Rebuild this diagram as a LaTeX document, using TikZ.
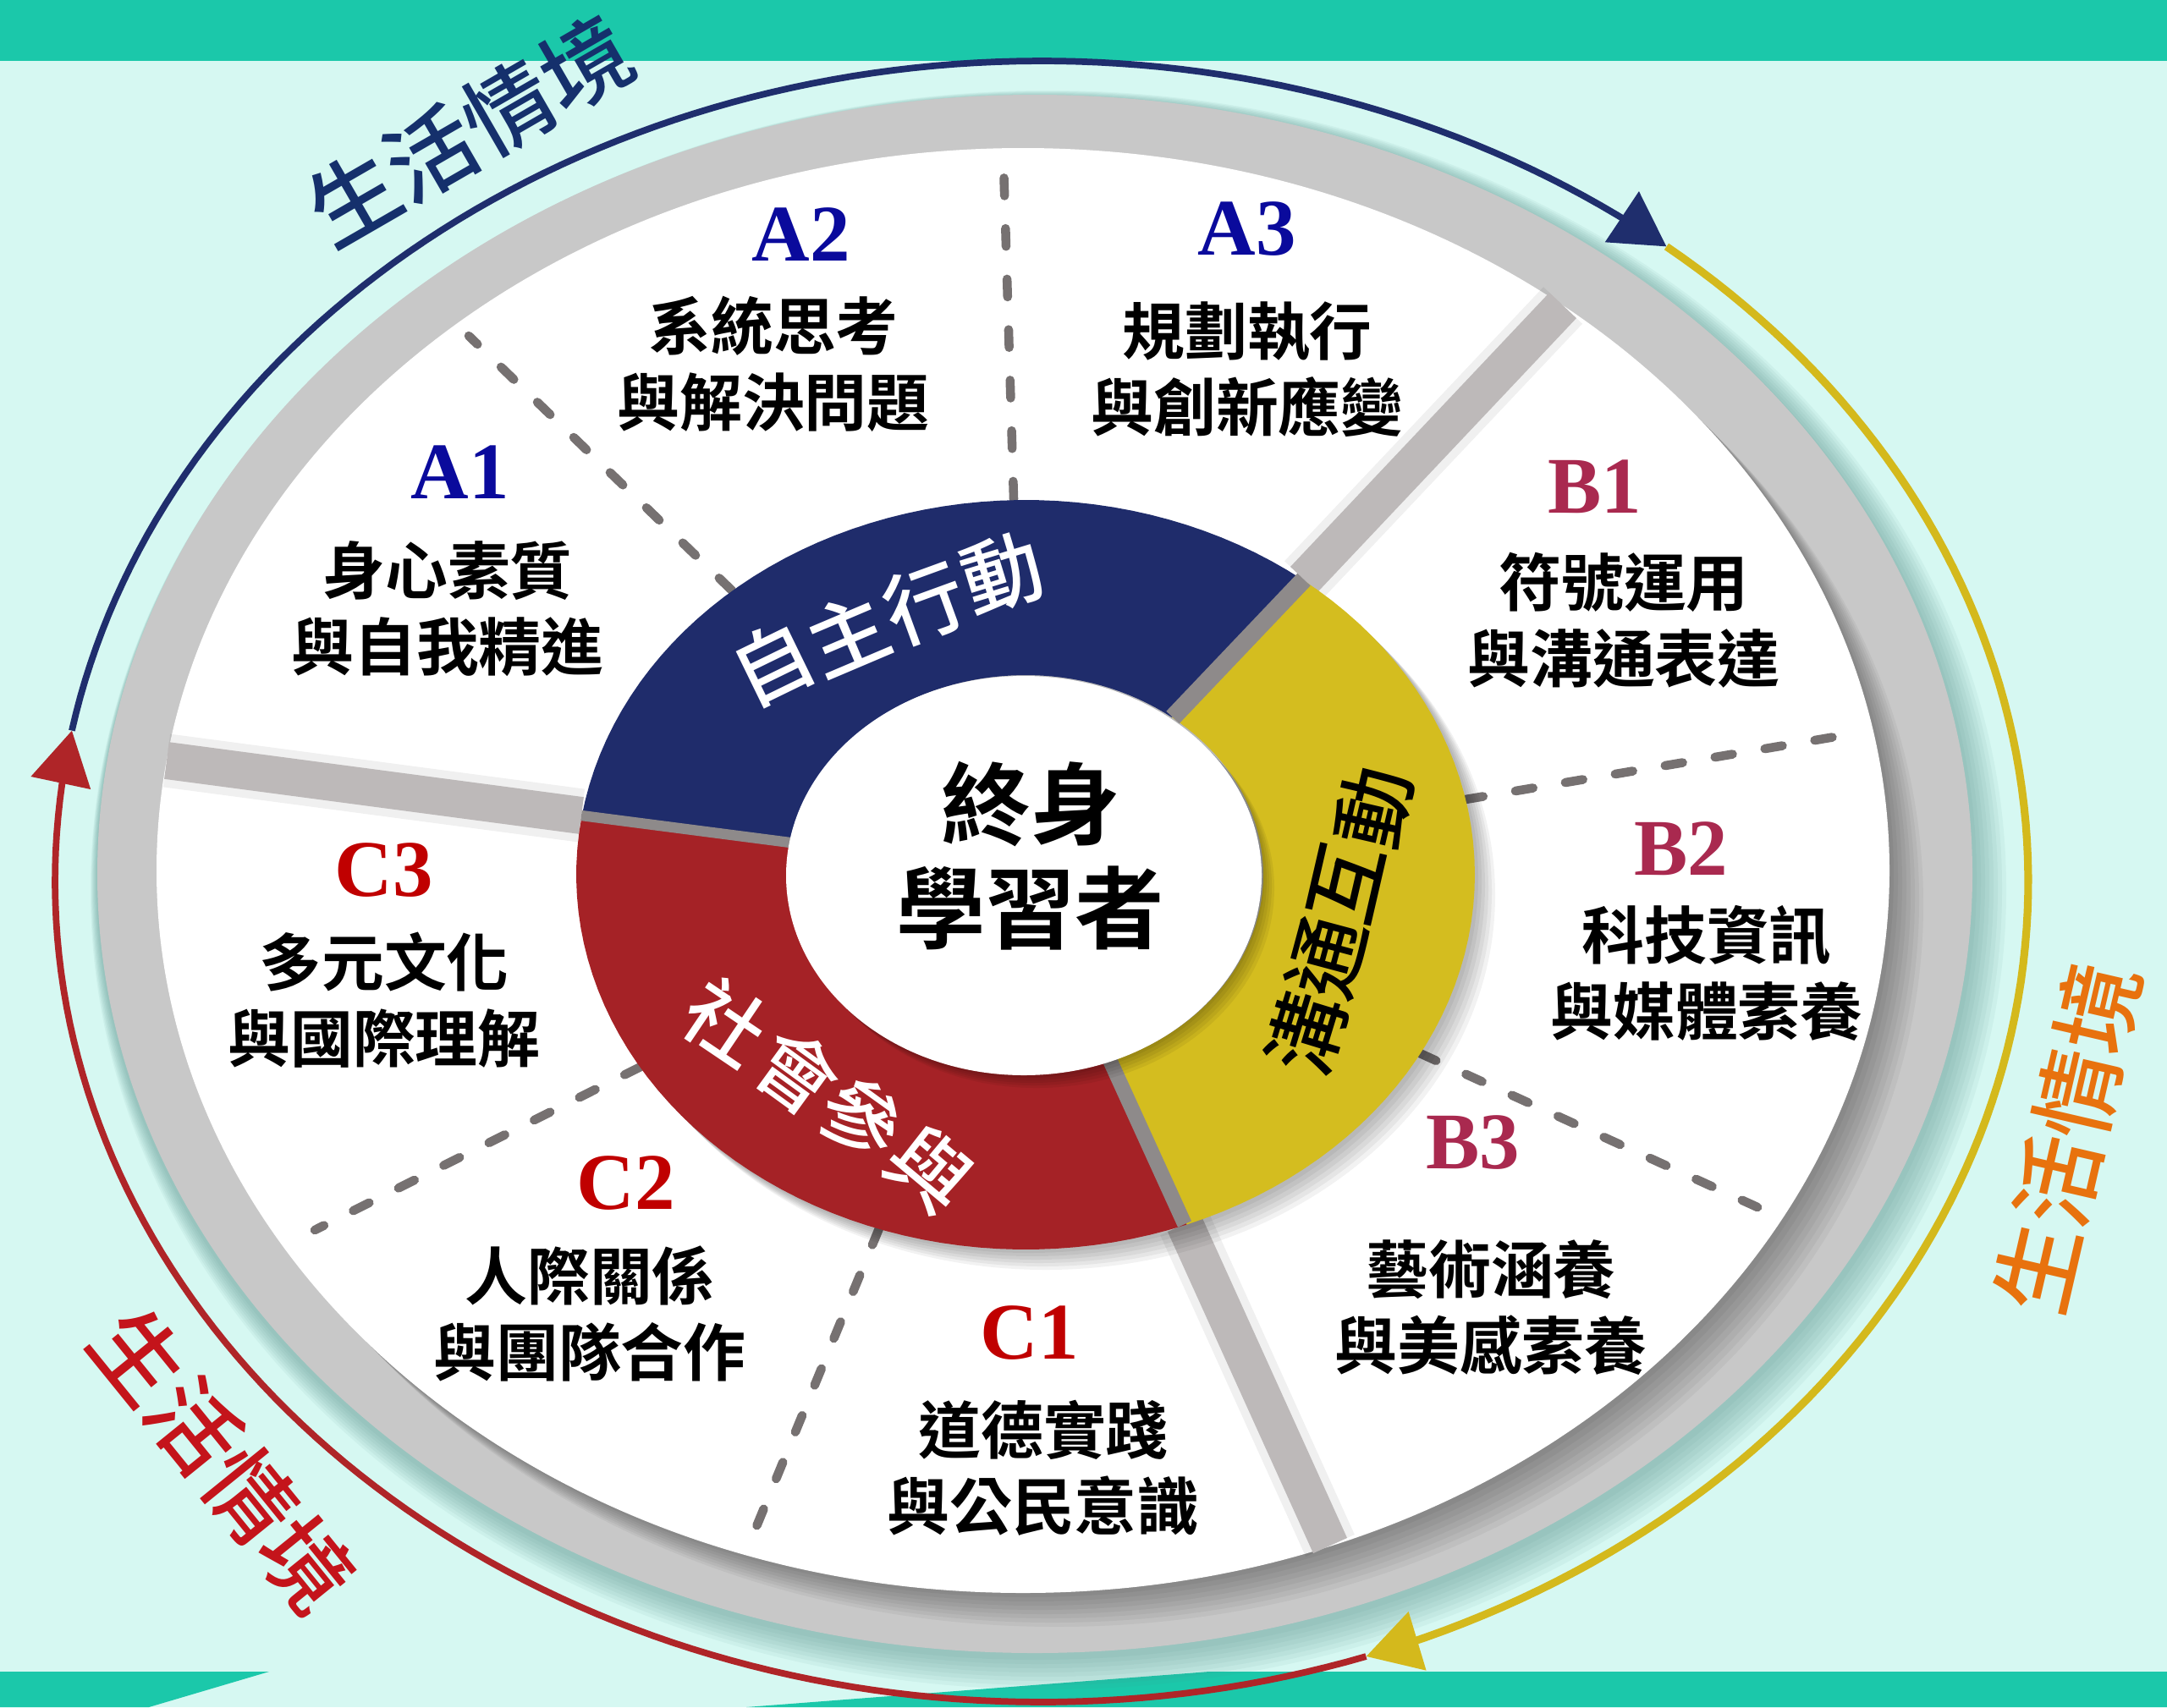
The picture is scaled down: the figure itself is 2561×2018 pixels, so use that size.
\documentclass[tikz,border=0pt]{standalone}
\usepackage{fontspec}
\usepackage{tikz}
\usetikzlibrary{arrows.meta}

\newfontfamily\cjk{Noto Sans CJK TC}[BoldFont={Noto Sans CJK TC Bold}]
\newfontfamily\cjkmid{Noto Sans CJK TC Medium}
\newfontfamily\lblfont{Liberation Serif}

\definecolor{mintbg}{HTML}{D6F8F2}
\definecolor{tealband}{HTML}{1BC8AA}
\definecolor{rimshade}{HTML}{4F8A84}
\definecolor{diskgray}{HTML}{C8C8C8}
\definecolor{spokegray}{HTML}{BDB9B9}
\definecolor{spokedark}{HTML}{8E8A8A}
\definecolor{dashgray}{HTML}{767171}
\definecolor{ringblue}{HTML}{1F2C6B}
\definecolor{ringyellow}{HTML}{D4BD1F}
\definecolor{ringred}{HTML}{A52226}
\definecolor{lblA}{HTML}{0A0A9C}
\definecolor{lblB}{HTML}{A9294F}
\definecolor{lblC}{HTML}{C00000}
\definecolor{arcblue}{HTML}{1F2E6D}
\definecolor{arcyellow}{HTML}{D4B91C}
\definecolor{arcred}{HTML}{AF2528}
\definecolor{ctxblue}{HTML}{15306C}
\definecolor{ctxorange}{HTML}{E8720E}
\definecolor{ctxred}{HTML}{C4141B}

\newcommand{\ringpart}[3]{\fill[#1] plot[domain=#2:#3, samples=50] ({1212+531*cos(\x)},{1034+443*sin(\x)}) -- plot[domain=#3:#2, samples=50] ({1212+281*cos(\x)},{1034+236*sin(\x)}) -- cycle;}

\tikzset{
	spoke/.style={draw=spokegray, line width=12.5pt},
	spokeshade/.style={draw=black, opacity=0.06, line width=#1},
	ringspoke/.style={draw=spokedark, line width=#1},
	dashline/.style={draw=dashgray, line width=3pt, line cap=round, dash pattern=on 6pt off 11pt},
	code/.style={font=\lblfont\bfseries\fontsize{27}{30}\selectfont, inner sep=0pt},
	codeA/.style={code, text=lblA},
	codeB/.style={code, text=lblB},
	codeC/.style={code, text=lblC},
	desc/.style={font=\cjk\bfseries\fontsize{21}{25.6}\selectfont, align=center, inner sep=0pt},
	ringch/.style={font=\cjkmid\fontsize{27}{27}\selectfont, inner sep=0pt},
	core/.style={font=\cjk\bfseries\fontsize{30}{35}\selectfont, align=center, inner sep=0pt},
	ctx/.style={font=\cjkmid\fontsize{30}{30}\selectfont, inner sep=0pt},
	arcline/.style={draw=#1, line width=2.2pt, -{Triangle[length=18pt, width=20pt]}}
}

\begin{document}
\begin{tikzpicture}[x=0.01cm, y=-0.01cm]
	\useasboundingbox (0,0) rectangle (2561,2018);
	\fill[mintbg] (0,0) rectangle (2561,2018);
	\fill[tealband] (0,0) rectangle (2561,72);
	\fill[tealband] (0,1976) -- (318,1976) -- (176,2018) -- (0,2018) -- cycle;
	\fill[tealband] (1429,1976) -- (2561,1976) -- (2561,2018) -- (882,2018) -- cycle;

	\foreach \k in {1,...,8}
		\fill[rimshade, opacity=0.07] ({1223+2*\k},{1036+2*\k}) ellipse [x radius={1108+3*\k}, y radius={921+3*\k}];
	\fill[diskgray] (1223,1033) ellipse [x radius=1108, y radius=921];
	\foreach \k in {1,...,8}
		\fill[black, opacity=0.045] ({1209+5*\k},{1029+5*\k}) ellipse [x radius=1024, y radius=854];
	\fill[white] (1209,1029) ellipse [x radius=1024, y radius=854];

	\coordinate (s1a) at (1386,848);
	\coordinate (s1b) at (1541,685);
	\coordinate (s1c) at (1847,361);
	\coordinate (s2a) at (934,996);
	\coordinate (s2b) at (687,964);
	\coordinate (s2c) at (197,899);
	\coordinate (s3a) at (1312,1254);
	\coordinate (s3b) at (1400,1447);
	\coordinate (s3c) at (1572,1827);

	\draw[spokeshade=18pt] (s1b) -- (s1c);
	\draw[spokeshade=18pt] (s2b) -- (s2c);
	\draw[spokeshade=18pt] (s3b) -- (s3c);
	\draw[spoke] (s1b) -- (s1c);
	\draw[spoke] (s2b) -- (s2c);
	\draw[spoke] (s3b) -- (s3c);

	\coordinate (d1a) at (865,698);
	\coordinate (d1b) at (554,397);
	\coordinate (d2a) at (1198,590);
	\coordinate (d2b) at (1186,193);
	\coordinate (d3a) at (1732,945);
	\coordinate (d3b) at (2198,866);
	\coordinate (d4a) at (1678,1245);
	\coordinate (d4b) at (2077,1427);
	\coordinate (d5a) at (757,1261);
	\coordinate (d5b) at (372,1454);
	\coordinate (d6a) at (1039,1452);
	\coordinate (d6b) at (888,1819);

	\draw[dashline] (d1a) -- (d1b);
	\draw[dashline] (d2a) -- (d2b);
	\draw[dashline] (d3a) -- (d3b);
	\draw[dashline] (d4a) -- (d4b);
	\draw[dashline] (d5a) -- (d5b);
	\draw[dashline] (d6a) -- (d6b);

	\foreach \k in {1,...,6}
		\fill[black, opacity=0.05] ({1212+4*\k},{1034+4*\k}) ellipse [x radius=531, y radius=443];
	\ringpart{ringblue}{-171}{-52}
	\ringpart{ringyellow}{-52}{69}
	\ringpart{ringred}{69}{189}
	\draw[ringspoke=6pt] (s1a) -- (s1b);
	\draw[ringspoke=3.5pt] (s2a) -- (s2b);
	\draw[ringspoke=5pt] (s3a) -- (s3b);
	\foreach \k in {1,...,5}
		\fill[black, opacity=0.06] ({1210+3*\k},{1035+3*\k}) ellipse [x radius=281, y radius=236];
	\fill[white] (1210,1035) ellipse [x radius=281, y radius=236];

	\node[core] (learner) at (1218,1012) {終身\\學習者};

	\node[ringch, text=white, rotate=26] (auto1) at (913,784) {自};
	\node[ringch, text=white, rotate=23] (auto2) at (1001,749) {主};
	\node[ringch, text=white, rotate=20] (auto3) at (1093,713) {行};
	\node[ringch, text=white, rotate=17] (auto4) at (1185,678) {動};
	\node[ringch, rotate=73] (comm1) at (1544,1222) {溝};
	\node[ringch, rotate=75] (comm2) at (1568,1131) {通};
	\node[ringch, rotate=77] (comm3) at (1591,1044) {互};
	\node[ringch, rotate=77] (comm4) at (1624,954) {動};
	\node[ringch, text=white, rotate=-34] (soc1) at (858,1208) {社};
	\node[ringch, text=white, rotate=-36] (soc2) at (942,1267) {會};
	\node[ringch, text=white, rotate=-38] (soc3) at (1018,1322) {參};
	\node[ringch, text=white, rotate=-40] (soc4) at (1099,1382) {與};

	\node[codeA] (A1) at (544,558) {A1};
	\node[desc] (A1t) at (529,720) {身心素質\\與自我精進};
	\node[codeA] (A2) at (947,277) {A2};
	\node[desc] (A2t) at (914,430) {系統思考\\與解決問題};
	\node[codeA] (A3) at (1474,271) {A3};
	\node[desc] (A3t) at (1474,437) {規劃執行\\與創新應變};
	\node[codeB] (B1) at (1885,575) {B1};
	\node[desc] (B1t) at (1919,733) {符號運用\\與溝通表達};
	\node[codeB] (B2) at (1987,1003) {B2};
	\node[desc] (B2t) at (2017,1150) {科技資訊\\與媒體素養};
	\node[codeB] (B3) at (1741,1351) {B3};
	\node[desc] (B3t) at (1762,1546) {藝術涵養\\與美感素養};
	\node[codeC] (C1) at (1217,1576) {C1};
	\node[desc] (C1t) at (1233,1735) {道德實踐\\與公民意識};
	\node[codeC] (C2) at (740,1399) {C2};
	\node[desc] (C2t) at (697,1553) {人際關係\\與團隊合作};
	\node[codeC] (C3) at (454,1029) {C3};
	\node[desc] (C3t) at (454,1182) {多元文化\\與國際理解};

	\draw[arcline=arcblue] plot[domain=190.6:309.3, samples=100] ({1231+1166*cos(\x)},{1042+970*sin(\x)});
	\draw[arcline=arcyellow, line width=2.6pt] plot[domain=309.3:430.8, samples=100] ({1231+1166*cos(\x)},{1042+970*sin(\x)});
	\draw[arcline=arcred] plot[domain=70.8:190.6, samples=100] ({1231+1166*cos(\x)},{1042+970*sin(\x)});

	\node[ctx, text=ctxblue, rotate=30] (ctxtop) at (555,155) {生活情境};
	\node[ctx, text=ctxorange, rotate=77] (ctxright) at (2444,1345) {生活情境};
	\node[ctx, text=ctxred, rotate=-51] (ctxleft) at (263,1726) {生活情境};
\end{tikzpicture}
\end{document}
